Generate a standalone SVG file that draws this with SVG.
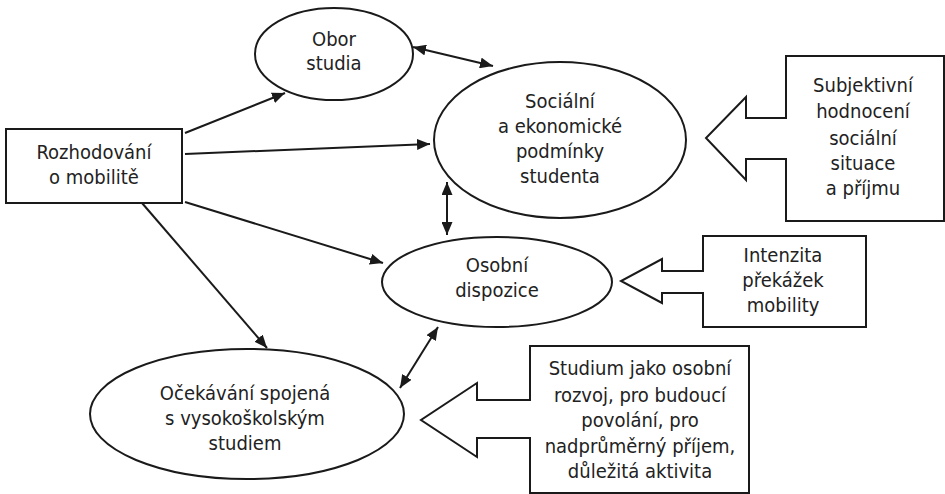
<svg xmlns="http://www.w3.org/2000/svg" width="945" height="494" viewBox="0 0 945 494">
<style>
.shape{fill:#fff;stroke:#1a1a1a;stroke-width:2}
.t{font-family:"DejaVu Sans Condensed","DejaVu Sans",Verdana,sans-serif;font-stretch:condensed;font-size:20px;fill:#222;text-anchor:middle}
.c{stroke:#1a1a1a;stroke-width:2;fill:none}
</style>
<defs>
<marker id="ah" markerUnits="userSpaceOnUse" markerWidth="13" markerHeight="11" refX="13" refY="5.5" orient="auto-start-reverse">
<path d="M0,0 L13,5.5 L0,11 z" fill="#1a1a1a"/>
</marker>
</defs>
<rect width="945" height="494" fill="#fff"/>
<g id="connectors">
<line class="c" x1="185" y1="133" x2="285" y2="93" marker-end="url(#ah)"/>
<line class="c" x1="185" y1="154" x2="430" y2="144" marker-end="url(#ah)"/>
<line class="c" x1="185" y1="202" x2="383" y2="263" marker-end="url(#ah)"/>
<line class="c" x1="142" y1="203" x2="267" y2="348" marker-end="url(#ah)"/>
<line class="c" x1="413" y1="47" x2="493" y2="66" marker-start="url(#ah)" marker-end="url(#ah)"/>
<line class="c" x1="447" y1="182" x2="447" y2="235" marker-start="url(#ah)" marker-end="url(#ah)"/>
<line class="c" x1="438" y1="327" x2="400" y2="388" marker-start="url(#ah)" marker-end="url(#ah)"/>
</g>
<g id="rozhodovani">
<rect class="shape" x="6" y="129" width="176" height="74"/>
<text class="t" x="94" y="159">Rozhodování</text>
<text class="t" x="94" y="184">o mobilitě</text>
</g>
<g id="obor">
<ellipse class="shape" cx="334" cy="54" rx="79" ry="46"/>
<text class="t" x="334" y="46">Obor</text>
<text class="t" x="334" y="70">studia</text>
</g>
<g id="socialni">
<ellipse class="shape" cx="560" cy="140" rx="126" ry="78"/>
<text class="t" x="560" y="108">Sociální</text>
<text class="t" x="560" y="133">a ekonomické</text>
<text class="t" x="560" y="158">podmínky</text>
<text class="t" x="560" y="183">studenta</text>
</g>
<g id="osobni">
<ellipse class="shape" cx="497" cy="282" rx="115" ry="45"/>
<text class="t" x="497" y="272">Osobní</text>
<text class="t" x="497" y="297">dispozice</text>
</g>
<g id="ocekavani">
<ellipse class="shape" cx="247" cy="414" rx="157" ry="65"/>
<text class="t" x="245" y="400">Očekávání spojená</text>
<text class="t" x="245" y="425">s vysokoškolským</text>
<text class="t" x="245" y="450">studiem</text>
</g>
<g id="subjektivni">
<path class="shape" d="M944,56 L786,56 L786,118 L746,118 L746,97 L706,138 L746,180 L746,159 L786,159 L786,221 L944,221 Z"/>
<text class="t" x="863" y="92">Subjektivní</text>
<text class="t" x="863" y="118">hodnocení</text>
<text class="t" x="863" y="145">sociální</text>
<text class="t" x="863" y="170">situace</text>
<text class="t" x="863" y="195">a příjmu</text>
</g>
<g id="intenzita">
<path class="shape" d="M866,236 L703,236 L703,271 L662,271 L662,259 L621,281 L662,303 L662,293 L703,293 L703,327 L866,327 Z"/>
<text class="t" x="783" y="262">Intenzita</text>
<text class="t" x="783" y="287">překážek</text>
<text class="t" x="783" y="312">mobility</text>
</g>
<g id="studium">
<path class="shape" d="M749,346 L530,346 L530,400 L477,400 L477,383 L421,420 L477,457 L477,438 L530,438 L530,493 L749,493 Z"/>
<text class="t" x="640" y="375">Studium jako osobní</text>
<text class="t" x="640" y="402">rozvoj, pro budoucí</text>
<text class="t" x="640" y="427">povolání, pro</text>
<text class="t" x="640" y="453">nadprůměrný příjem,</text>
<text class="t" x="640" y="478">důležitá aktivita</text>
</g>
</svg>
